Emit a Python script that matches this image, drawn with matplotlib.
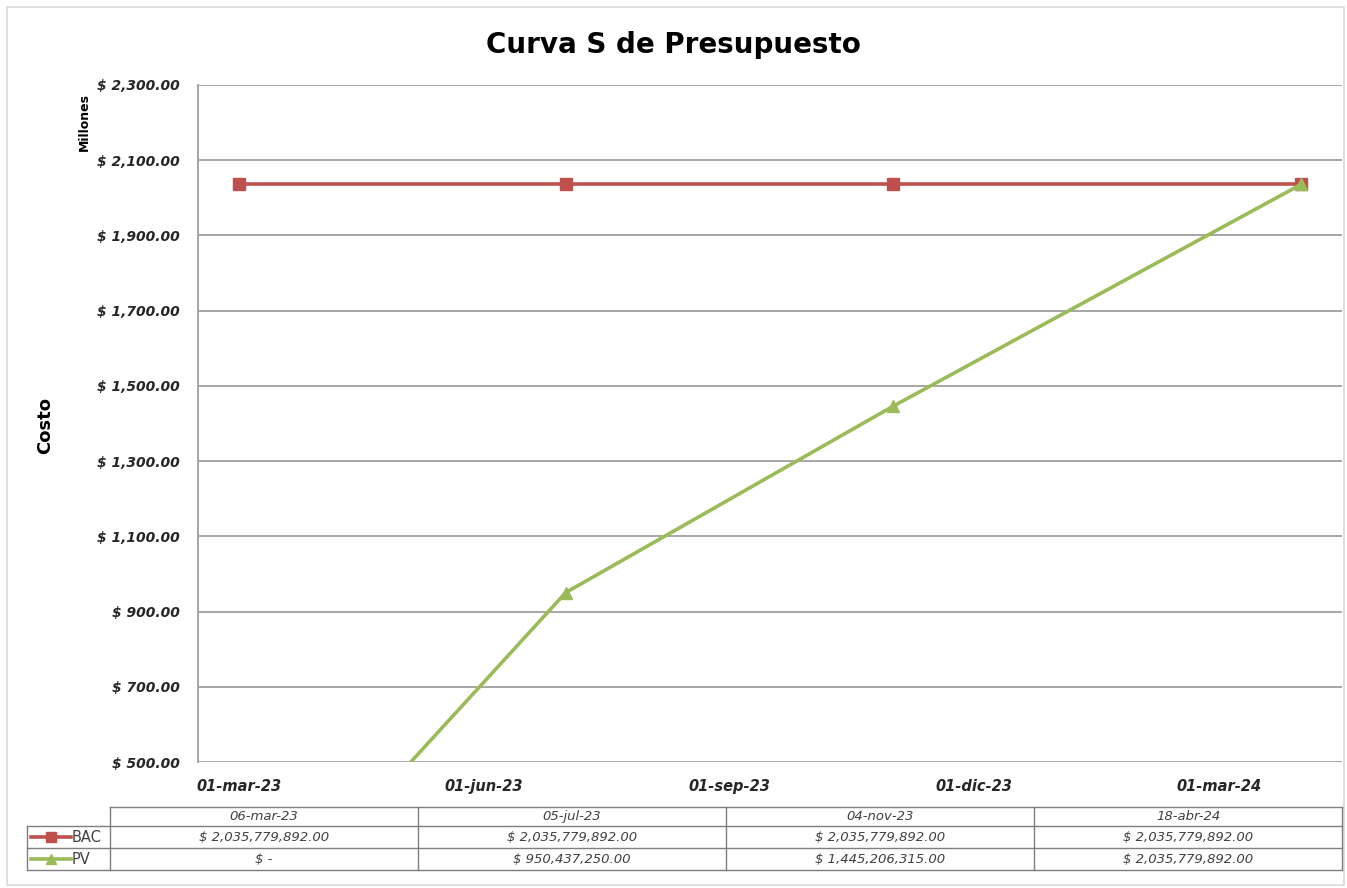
import matplotlib.pyplot as plt
from matplotlib.lines import Line2D
from matplotlib.patches import Rectangle
from matplotlib.ticker import FuncFormatter
import pandas as pd

# datos de la curva S (pesos)
fechas = ["2023-03-06", "2023-07-05", "2023-11-04", "2024-04-18"]
fechas_txt = ["06-mar-23", "05-jul-23", "04-nov-23", "18-abr-24"]
bac = [2035779892.00, 2035779892.00, 2035779892.00, 2035779892.00]
pv = [0.00, 950437250.00, 1445206315.00, 2035779892.00]

ticks_fechas = ["2023-03-01", "2023-06-01", "2023-09-01", "2023-12-01", "2024-03-01"]
ticks_txt = ["01-mar-23", "01-jun-23", "01-sep-23", "01-dic-23", "01-mar-24"]

ROJO = "#c0504d"
VERDE = "#9bbb59"
GRIS = "#a6a6a6"
TXT = "#262626"

plt.rcParams['font.family'] = ['DejaVu Sans']


def mes_idx(f):
    # eje por meses (unidad base = mes), como en Excel
    d = pd.Timestamp(f)
    return (d.year - 2023) * 12 + d.month - 3


x = [mes_idx(f) for f in fechas]
xt = [mes_idx(f) for f in ticks_fechas]

fig = plt.figure(figsize=(13.47, 8.88), dpi=100)
ax = fig.add_axes([198 / 1347, 1 - 762 / 888, 1144 / 1347, 677 / 888])

ax.plot(x, [v / 1e6 for v in bac], color=ROJO, lw=2.6, marker="s", ms=9,
        zorder=3, clip_on=False)
ax.plot(x, [v / 1e6 for v in pv], color=VERDE, lw=2.6, marker="^", ms=9,
        zorder=4)

ax.set_xlim(-0.5, 13.5)
ax.set_ylim(500, 2300)
ax.set_yticks(range(500, 2301, 200))
ax.yaxis.set_major_formatter(FuncFormatter(lambda v, p: "$ {:,.2f}".format(v)))
ax.set_xticks(xt)
ax.set_xticklabels(ticks_txt)
ax.grid(axis="y", color=GRIS, lw=1.4)
ax.set_axisbelow(True)
for s in ["top", "right", "bottom"]:
    ax.spines[s].set_visible(False)
ax.spines["left"].set_color(GRIS)
ax.spines["left"].set_linewidth(1.4)
ax.tick_params(length=0, colors=TXT)
ax.tick_params(axis="y", pad=13)
ax.tick_params(axis="x", pad=12)
for t in ax.get_yticklabels():
    t.set_fontweight("bold")
    t.set_fontstyle("italic")
    t.set_fontsize(10)
for t in ax.get_xticklabels():
    t.set_fontweight("bold")
    t.set_fontstyle("italic")
    t.set_fontsize(10.5)

fig.text(0.5, 1 - 45 / 888, "Curva S de Presupuesto", ha="center", va="center",
         fontsize=20, fontweight="bold", color="black")
fig.text(45 / 1347, 1 - 425 / 888, "Costo", rotation=90, ha="center", va="center",
         fontsize=13, fontweight="bold", color="black")
fig.text(84 / 1347, 1 - 122 / 888, "Millones", rotation=90, ha="center", va="center",
         fontsize=9, fontweight="bold", color="black")

# tabla de datos bajo el grafico
W, H = 1347.0, 888.0
col_x = [110 + i * 308 for i in range(5)]
filas_y = [807, 826, 848, 870]
lc = "#7f7f7f"


def hl(x0, x1, y):
    fig.add_artist(Line2D([x0 / W, x1 / W], [1 - y / H, 1 - y / H], color=lc, lw=1))


def vl(xv, y0, y1):
    fig.add_artist(Line2D([xv / W, xv / W], [1 - y0 / H, 1 - y1 / H], color=lc, lw=1))


hl(col_x[0], col_x[-1], filas_y[0])
for y in filas_y[1:]:
    hl(27, col_x[-1], y)
for xv in col_x:
    vl(xv, filas_y[0], filas_y[-1])
vl(27, filas_y[1], filas_y[-1])


def fmt(v):
    return "$ -" if v == 0 else "$ {:,.2f}".format(v)


for i, f in enumerate(fechas_txt):
    cx = (col_x[i] + col_x[i + 1]) / 2 / W
    fig.text(cx, 1 - (filas_y[0] + filas_y[1]) / 2 / H, f, ha="center", va="center",
             fontsize=9.5, fontstyle="italic", color="#404040")
    fig.text(cx, 1 - (filas_y[1] + filas_y[2]) / 2 / H, fmt(bac[i]), ha="center",
             va="center", fontsize=9.5, fontstyle="italic", color="#404040")
    fig.text(cx, 1 - (filas_y[2] + filas_y[3]) / 2 / H, fmt(pv[i]), ha="center",
             va="center", fontsize=9.5, fontstyle="italic", color="#404040")

for nombre, color, mk, y0, y1 in [("BAC", ROJO, "s", filas_y[1], filas_y[2]),
                                  ("PV", VERDE, "^", filas_y[2], filas_y[3])]:
    ym = 1 - (y0 + y1) / 2 / H
    fig.add_artist(Line2D([31 / W, 71 / W], [ym, ym], color=color, lw=2.6))
    fig.add_artist(Line2D([51 / W], [ym], color=color, marker=mk, ms=7, lw=0))
    fig.text(72 / W, ym, nombre, ha="left", va="center", fontsize=10.5, color="#404040")

# marco exterior
fig.add_artist(Rectangle((7 / W, 3 / H), 1337 / W, 878 / H, fill=False,
                         edgecolor="#d9d9d9", lw=1.2))

fig.savefig("out.png", dpi=100)
